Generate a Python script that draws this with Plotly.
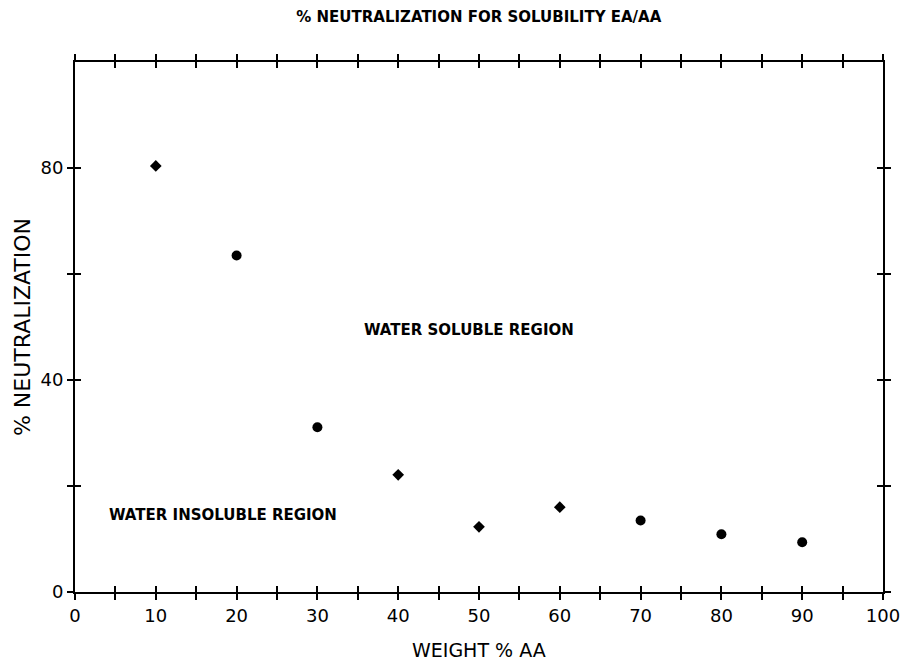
import plotly.graph_objects as go

# Data
weight_aa = [10, 20, 30, 40, 50, 60, 70, 80, 90]
neutralization = [80.4, 63.5, 31.1, 22.1, 12.3, 16.0, 13.5, 10.9, 9.4]
marker_kind = ["diamond", "circle", "circle", "diamond", "diamond",
               "diamond", "circle", "circle", "circle"]

x_tick_vals = list(range(0, 101, 5))
x_tick_text = [str(v) if v % 10 == 0 else "" for v in x_tick_vals]
y_tick_vals = [0, 20, 40, 60, 80]
y_tick_text = ["0", "", "40", "", "80"]

FONT = "DejaVu Sans"

fig = go.Figure()
fig.add_trace(go.Scatter(
    x=weight_aa, y=neutralization, mode="markers",
    marker=dict(symbol=marker_kind,
                size=[9 if s == "diamond" else 10 for s in marker_kind],
                color="black", opacity=1, line=dict(width=0)),
    showlegend=False, hoverinfo="x+y"))
# invisible trace to anchor the inside-tick overlay axes
fig.add_trace(go.Scatter(x=[None], y=[None], xaxis="x2", yaxis="y2",
                         showlegend=False, hoverinfo="skip"))

axis_common = dict(showgrid=False, zeroline=False, showline=True,
                   linecolor="black", linewidth=2, mirror="ticks",
                   ticklen=6, tickwidth=2, tickcolor="black")

fig.update_layout(
    width=912, height=663,
    margin=dict(l=75, r=18, t=62, b=71),
    paper_bgcolor="white", plot_bgcolor="white",
    title=dict(text="% NEUTRALIZATION FOR SOLUBILITY EA/AA",
               font=dict(family=FONT, size=15, color="black", weight="bold"),
               x=0.525, xanchor="center", y=1 - 17 / 663, yanchor="middle",
               xref="container", yref="container"),
    xaxis=dict(range=[0, 100], tickmode="array", tickvals=x_tick_vals,
               ticktext=x_tick_text, ticks="outside",
               tickfont=dict(family=FONT, size=18, color="black"),
               **axis_common),
    yaxis=dict(range=[0, 100], tickmode="array", tickvals=y_tick_vals,
               ticktext=y_tick_text, ticks="outside",
               tickfont=dict(family=FONT, size=18, color="black"),
               title=dict(text="% NEUTRALIZATION", standoff=4,
                          font=dict(family=FONT, size=22, color="black")),
               **axis_common),
    xaxis2=dict(range=[0, 100], overlaying="x", tickmode="array",
                tickvals=x_tick_vals, ticks="inside", showticklabels=False,
                **axis_common),
    yaxis2=dict(range=[0, 100], overlaying="y", tickmode="array",
                tickvals=y_tick_vals, ticks="inside", showticklabels=False,
                **axis_common),
    annotations=[
        dict(x=0.5, y=-58 / 530, xref="paper", yref="paper", text="WEIGHT % AA",
             showarrow=False, xanchor="center", yanchor="middle",
             font=dict(family=FONT, size=19, color="black")),
        dict(x=48.8, y=49.4, xref="x", yref="y", text="WATER SOLUBLE REGION",
             showarrow=False, xanchor="center", yanchor="middle",
             font=dict(family=FONT, size=15, color="black", weight="bold")),
        dict(x=3.9, y=14.5, xref="x", yref="y", text="WATER INSOLUBLE REGION",
             showarrow=False, xanchor="left", yanchor="middle",
             font=dict(family=FONT, size=15, color="black", weight="bold")),
    ],
)

fig.write_html("out.html")
